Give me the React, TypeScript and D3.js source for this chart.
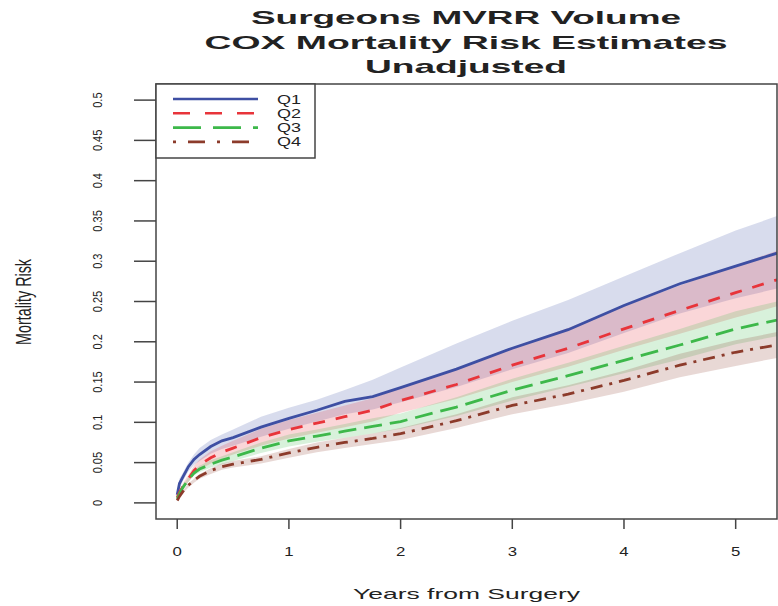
import React from "react";
import * as d3 from "d3";

// Follow-up times (years) at which the Cox estimates are tabulated
const TIMES = [0, 0.02, 0.05, 0.1, 0.15, 0.2, 0.3, 0.4, 0.5, 0.75, 1, 1.25, 1.5, 1.75, 2, 2.5, 3, 3.5, 4, 4.5, 5, 5.37];

// Estimated cumulative mortality risk per surgeon-volume quartile
const Q1_EST = [0.010, 0.024, 0.032, 0.045, 0.054, 0.060, 0.070, 0.077, 0.081, 0.094, 0.105, 0.115, 0.126, 0.132, 0.143, 0.166, 0.192, 0.215, 0.245, 0.272, 0.294, 0.310];
const Q1_LO = [0.007, 0.018, 0.027, 0.039, 0.047, 0.052, 0.061, 0.067, 0.071, 0.082, 0.092, 0.101, 0.110, 0.116, 0.125, 0.144, 0.166, 0.186, 0.211, 0.235, 0.254, 0.266];
const Q1_HI = [0.014, 0.030, 0.037, 0.050, 0.060, 0.068, 0.078, 0.085, 0.091, 0.107, 0.118, 0.128, 0.140, 0.153, 0.168, 0.198, 0.226, 0.252, 0.281, 0.310, 0.338, 0.356];

const Q2_EST = [0.007, 0.013, 0.020, 0.030, 0.040, 0.047, 0.056, 0.063, 0.068, 0.081, 0.091, 0.099, 0.107, 0.115, 0.127, 0.147, 0.171, 0.192, 0.216, 0.239, 0.261, 0.277];
const Q2_LO = [0.005, 0.011, 0.017, 0.026, 0.035, 0.041, 0.049, 0.055, 0.060, 0.071, 0.080, 0.087, 0.094, 0.101, 0.112, 0.129, 0.150, 0.169, 0.190, 0.210, 0.230, 0.244];
const Q2_HI = [0.009, 0.016, 0.024, 0.035, 0.046, 0.054, 0.064, 0.071, 0.077, 0.092, 0.103, 0.112, 0.121, 0.130, 0.143, 0.166, 0.193, 0.217, 0.244, 0.270, 0.295, 0.313];

const Q3_EST = [0.005, 0.011, 0.019, 0.029, 0.037, 0.042, 0.048, 0.053, 0.057, 0.068, 0.077, 0.083, 0.089, 0.095, 0.101, 0.119, 0.140, 0.158, 0.177, 0.196, 0.216, 0.227];
const Q3_LO = [0.004, 0.010, 0.017, 0.026, 0.034, 0.038, 0.044, 0.048, 0.052, 0.062, 0.070, 0.076, 0.081, 0.086, 0.092, 0.108, 0.127, 0.144, 0.161, 0.178, 0.197, 0.207];
const Q3_HI = [0.006, 0.013, 0.021, 0.032, 0.041, 0.046, 0.053, 0.058, 0.063, 0.075, 0.085, 0.091, 0.098, 0.105, 0.111, 0.131, 0.154, 0.174, 0.195, 0.216, 0.238, 0.250];

const Q4_EST = [0.003, 0.008, 0.014, 0.022, 0.028, 0.033, 0.040, 0.045, 0.048, 0.054, 0.062, 0.069, 0.075, 0.080, 0.086, 0.102, 0.121, 0.135, 0.152, 0.171, 0.187, 0.196];
const Q4_LO = [0.002, 0.007, 0.012, 0.019, 0.025, 0.030, 0.036, 0.041, 0.044, 0.049, 0.056, 0.063, 0.068, 0.073, 0.078, 0.093, 0.110, 0.123, 0.138, 0.156, 0.170, 0.180];
const Q4_HI = [0.004, 0.009, 0.015, 0.024, 0.030, 0.036, 0.043, 0.049, 0.052, 0.058, 0.067, 0.075, 0.081, 0.086, 0.093, 0.110, 0.131, 0.146, 0.164, 0.185, 0.202, 0.212];

const SERIES_NAMES = ["Q1", "Q2", "Q3", "Q4"];
const SERIES_COLORS = ["#3e4fa3", "#e8343a", "#3db84a", "#8c3b2b"];
const SERIES_DASH = ["", "12 11", "18 8", "12 7 3 7"];
const LEGEND_DASH = ["", "17 15", "28 12", "3 12 17 12"];

const X_TICKS = [0, 1, 2, 3, 4, 5];
const Y_TICKS = [0, 0.05, 0.1, 0.15, 0.2, 0.25, 0.3, 0.35, 0.4, 0.45, 0.5];
const Y_TICK_LABELS = ["0", "0.05", "0.1", "0.15", "0.2", "0.25", "0.3", "0.35", "0.4", "0.45", "0.5"];

const TITLE_LINES = ["Surgeons MVRR Volume", "COX Mortality Risk Estimates", "Unadjusted"];

const W = 778;
const H = 606;
const FONT = "'Liberation Sans', Arial, Helvetica, sans-serif";

export default function App() {
  const left = 156, right = 777, top = 84, bottom = 519;
  const x = d3.scaleLinear().domain([-0.19, 5.37]).range([left, right]);
  const y = d3.scaleLinear().domain([-0.02, 0.52]).range([bottom, top]);

  const series = [
    { est: Q1_EST, lo: Q1_LO, hi: Q1_HI },
    { est: Q2_EST, lo: Q2_LO, hi: Q2_HI },
    { est: Q3_EST, lo: Q3_LO, hi: Q3_HI },
    { est: Q4_EST, lo: Q4_LO, hi: Q4_HI },
  ].map((s, i) => ({
    ...s,
    name: SERIES_NAMES[i],
    color: SERIES_COLORS[i],
    dash: SERIES_DASH[i],
    legendDash: LEGEND_DASH[i],
  }));

  const line = d3
    .line<number>()
    .x((_, i) => x(TIMES[i]))
    .y((d) => y(d));

  const band = (lo: number[], hi: number[]) =>
    d3
      .area<number>()
      .x((_, i) => x(TIMES[i]))
      .y0((_, i) => y(lo[i]))
      .y1((_, i) => y(hi[i]))(TIMES);

  const titleWidths = [430, 523, 202];
  const titleBase = [24, 49, 73];

  return (
    <svg
      width={W}
      height={H}
      style={{ position: "absolute", left: 0, top: 0, background: "#fff" }}
      fontFamily={FONT}
    >
      <defs>
        <clipPath id="plot-area">
          <rect x={left} y={top} width={right - left} height={bottom - top} />
        </clipPath>
      </defs>

      {/* title */}
      {TITLE_LINES.map((t, i) => (
        <text
          key={t}
          x={466}
          y={titleBase[i]}
          textAnchor="middle"
          fontSize={19}
          fontWeight="bold"
          fill="#222"
          textLength={titleWidths[i]}
          lengthAdjust="spacingAndGlyphs"
        >
          {t}
        </text>
      ))}

      {/* confidence bands and estimate curves */}
      <g clipPath="url(#plot-area)">
        {series.map((s) => (
          <path key={"b" + s.name} d={band(s.lo, s.hi) || ""} fill={s.color} fillOpacity={0.2} stroke="none" />
        ))}
        {series.map((s) => (
          <path
            key={"l" + s.name}
            d={line(s.est) || ""}
            fill="none"
            stroke={s.color}
            strokeWidth={2.8}
            strokeDasharray={s.dash || undefined}
          />
        ))}
      </g>

      {/* plot frame */}
      <rect x={left} y={top} width={right - left} height={bottom - top} fill="none" stroke="#444" strokeWidth={1.5} />

      {/* y axis */}
      {Y_TICKS.map((v, i) => (
        <g key={"yt" + i}>
          <line x1={134} x2={left} y1={y(v)} y2={y(v)} stroke="#444" strokeWidth={1.5} />
          <text
            transform={`translate(102,${y(v)}) scale(1.1,1) rotate(-90)`}
            textAnchor="middle"
            fontSize={11}
            fill="#222"
          >
            {Y_TICK_LABELS[i]}
          </text>
        </g>
      ))}
      <text
        transform={`translate(31,302) scale(1.5,1) rotate(-90)`}
        textAnchor="middle"
        fontSize={15}
        fill="#222"
        textLength={86}
        lengthAdjust="spacingAndGlyphs"
      >
        Mortality Risk
      </text>

      {/* x axis */}
      {X_TICKS.map((v) => (
        <g key={"xt" + v}>
          <line x1={x(v)} x2={x(v)} y1={bottom} y2={529} stroke="#444" strokeWidth={1.5} />
          <text
            transform={`translate(${x(v)},556) scale(1.4,1)`}
            textAnchor="middle"
            fontSize={12}
            fill="#222"
          >
            {v}
          </text>
        </g>
      ))}
      <text
        x={466.5}
        y={599}
        textAnchor="middle"
        fontSize={15}
        fill="#222"
        textLength={227}
        lengthAdjust="spacingAndGlyphs"
      >
        Years from Surgery
      </text>

      {/* legend */}
      <rect x={left} y={top} width={159} height={74} fill="#fff" stroke="#444" strokeWidth={1.5} />
      {series.map((s, i) => {
        const ry = 99 + i * 14.3;
        return (
          <g key={"lg" + s.name}>
            <line
              x1={173}
              x2={258}
              y1={ry}
              y2={ry}
              stroke={s.color}
              strokeWidth={2.6}
              strokeDasharray={s.legendDash || undefined}
            />
            <text
              x={277}
              y={ry + 4.5}
              fontSize={12}
              fill="#222"
              textLength={24}
              lengthAdjust="spacingAndGlyphs"
            >
              {s.name}
            </text>
          </g>
        );
      })}
    </svg>
  );
}
